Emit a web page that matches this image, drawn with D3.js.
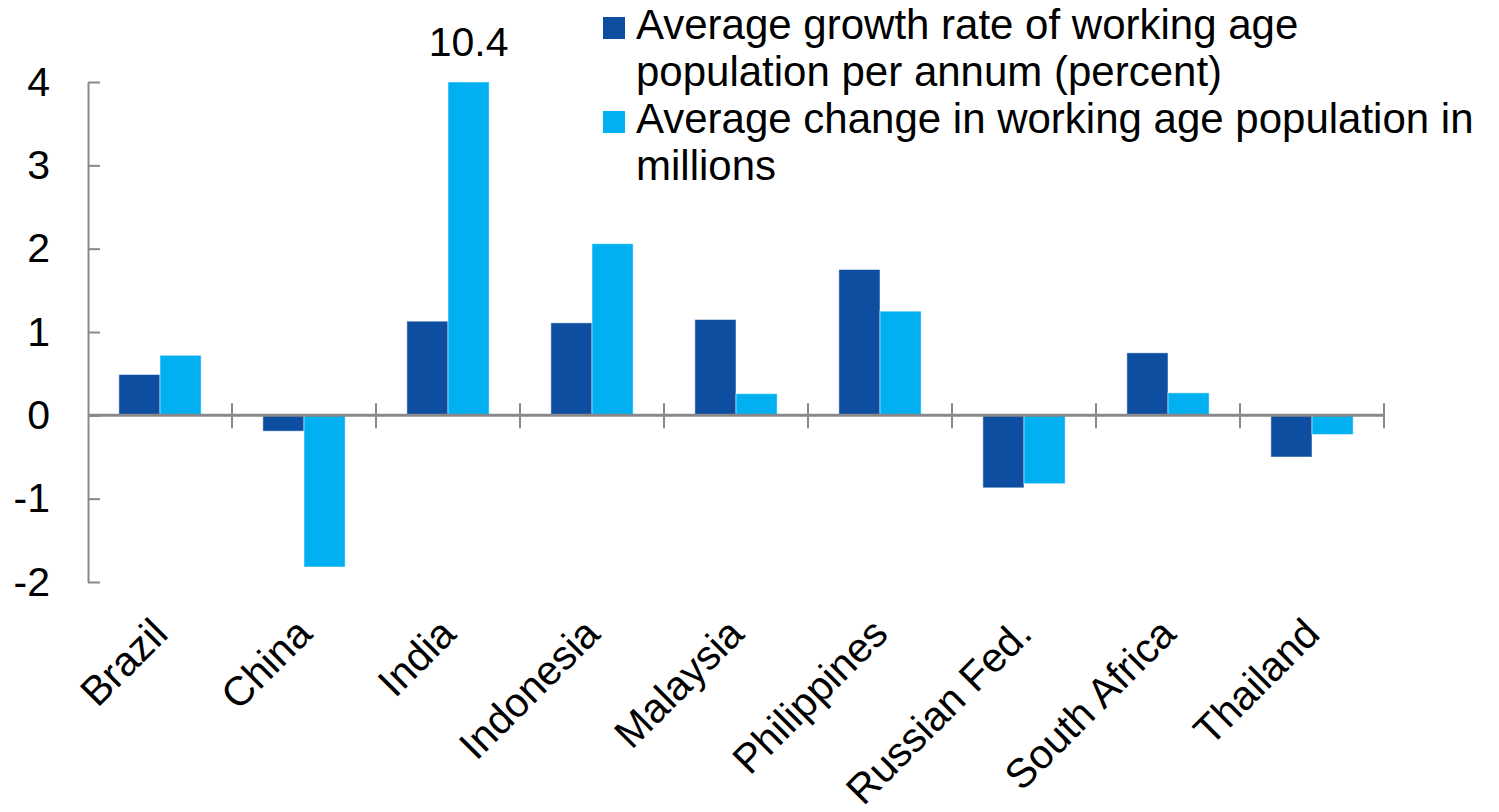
<!DOCTYPE html>
<meta charset="utf-8">
<head>
<style>
body { margin: 0; background: #fff; }
text { font-family: "Liberation Sans", Arial, sans-serif; fill: #000; }
</style>
</head>
<body>
<div id="chart"></div>
<script src="https://d3js.org/d3.v7.min.js"></script>
<script>

// data
var countries = ["Brazil", "China", "India", "Indonesia", "Malaysia", "Philippines", "Russian Fed.", "South Africa", "Thailand"];
var growthRate = [0.49, -0.19, 1.13, 1.11, 1.15, 1.75, -0.87, 0.75, -0.50];
// India's real value is 10.4, the bar is cut at the top of the axis
var changeMillions = [0.72, -1.82, 10.4, 2.06, 0.26, 1.25, -0.82, 0.27, -0.23];
var seriesNames = ["Average growth rate of working age population per annum (percent)",
                   "Average change in working age population in millions"];
var legendLines = [["Average growth rate of working age", "population per annum (percent)"],
                   ["Average change in working age population in", "millions"]];
var yTicks = [-2, -1, 0, 1, 2, 3, 4];

var colors = ["#0d4ea1", "#00b0f0"];
var axisColor = "#898989";

var width = 1499, height = 812;
var svg = d3.select("#chart").append("svg")
    .attr("width", width)
    .attr("height", height);

var plotLeft = 88, plotRight = 1384, plotTop = 82, plotBottom = 582;

var y = d3.scaleLinear().domain([-2, 4]).range([plotBottom, plotTop]);
var x = d3.scaleBand().domain(countries).range([plotLeft, plotRight]).padding(0);
var x1 = d3.scaleBand().domain([0, 1]).range([0, x.bandwidth()]).paddingInner(0).paddingOuter(0.75);

var rows = countries.map(function(c, i) {
  return {country: c, vals: [growthRate[i], changeMillions[i]]};
});

// bars
var groups = svg.append("g").selectAll("g")
  .data(rows)
  .enter().append("g")
    .attr("transform", function(d) { return "translate(" + x(d.country) + ",0)"; });

groups.selectAll("rect")
  .data(function(d) { return d.vals.map(function(v, j) { return {j: j, v: Math.min(v, 4)}; }); })
  .enter().append("rect")
    .attr("x", function(d) { return x1(d.j); })
    .attr("width", x1.bandwidth())
    .attr("y", function(d) { return y(Math.max(d.v, 0)); })
    .attr("height", function(d) { return Math.abs(y(d.v) - y(0)); })
    .style("fill", function(d) { return colors[d.j]; })
    .style("stroke", "rgba(255,255,255,0.5)")
    .style("stroke-width", 1);

// label for the cut bar
var iIndia = countries.indexOf("India");
svg.append("text")
  .attr("x", x("India") + x1(1) + x1.bandwidth() / 2)
  .attr("y", y(4) - 26)
  .attr("text-anchor", "middle")
  .style("font-size", "41px")
  .text(changeMillions[iIndia]);

// y axis
var yAxis = d3.axisLeft(y)
  .tickValues(yTicks)
  .tickSizeInner(-12)
  .tickSizeOuter(0)
  .tickPadding(38)
  .tickFormat(d3.format("d"));
var gy = svg.append("g")
  .attr("transform", "translate(" + plotLeft + ",0)")
  .call(yAxis);
gy.selectAll("line, path").attr("stroke", axisColor).attr("stroke-width", 2);
gy.selectAll("text")
  .style("font-size", "41px")
  .style("font-family", "'Liberation Sans', Arial, sans-serif")
  .attr("fill", "#000")
  .text(function(d) { return d < 0 ? "-" + Math.abs(d) : d; });

// x axis at zero
var gx = svg.append("g");
gx.append("line")
  .attr("x1", plotLeft).attr("x2", plotRight)
  .attr("y1", y(0)).attr("y2", y(0))
  .attr("stroke", axisColor).attr("stroke-width", 3);
gx.selectAll(".xtick")
  .data(countries)
  .enter().append("line")
    .attr("class", "xtick")
    .attr("x1", function(d) { return x(d) + x.bandwidth(); })
    .attr("x2", function(d) { return x(d) + x.bandwidth(); })
    .attr("y1", y(0) - 12)
    .attr("y2", y(0) + 13)
    .attr("stroke", axisColor).attr("stroke-width", 2);

// category labels
svg.append("g").selectAll("text")
  .data(countries)
  .enter().append("text")
    .attr("transform", function(d) {
      return "translate(" + (x(d) + x.bandwidth() / 2 + 10) + "," + 636 + ") rotate(-45)";
    })
    .attr("text-anchor", "end")
    .style("font-size", "41px")
    .text(function(d) { return d; });

// legend
var legend = svg.append("g").attr("transform", "translate(603,0)");
seriesNames.forEach(function(name, i) {
  var base = 39 + i * 94;
  legend.append("rect")
    .attr("x", 0).attr("y", base - 22)
    .attr("width", 22).attr("height", 22)
    .style("fill", colors[i]);
  legendLines[i].forEach(function(line, k) {
    legend.append("text")
      .attr("x", 33)
      .attr("y", base + k * 47)
      .style("font-size", "42px")
      .text(line);
  });
});

</script>
</body>
